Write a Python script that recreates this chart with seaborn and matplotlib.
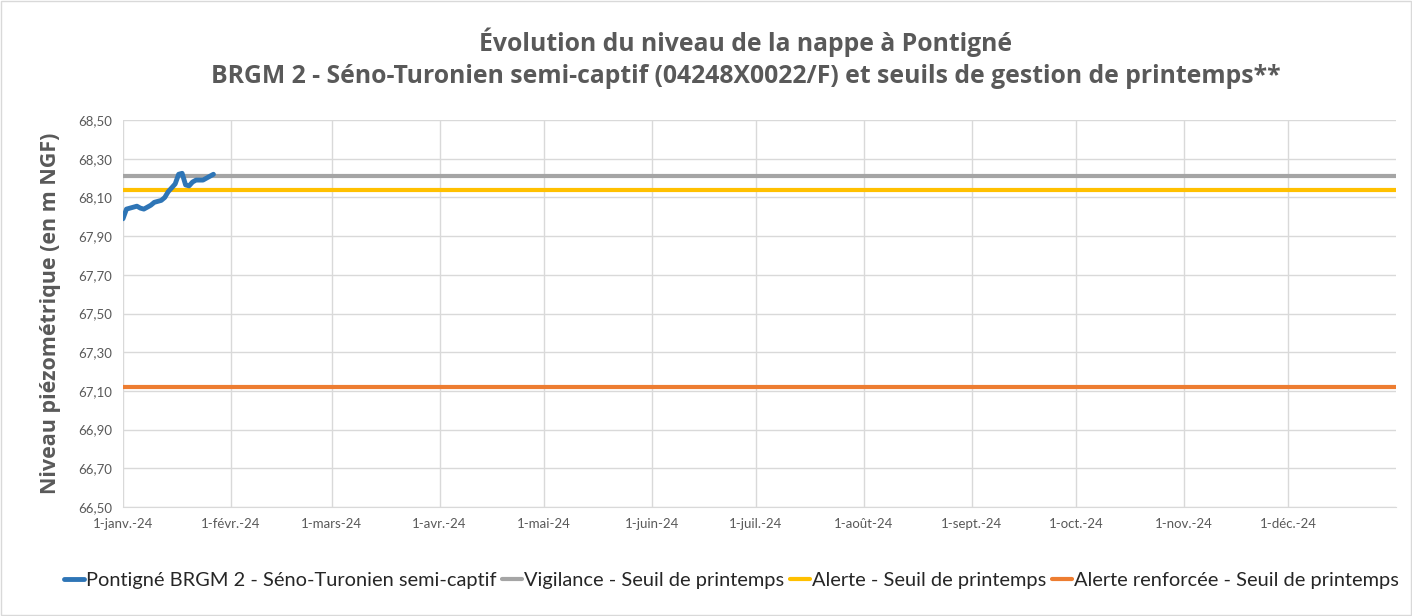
import pandas as pd
import numpy as np
import matplotlib.pyplot as plt
import seaborn as sns

# Relevé journalier (janvier 2024)
dates_mesure = pd.date_range("2024-01-01", "2024-01-27", freq="D")
niveau = [67.99, 68.04, 68.045, 68.05, 68.055, 68.045, 68.04, 68.05, 68.06,
          68.075, 68.08, 68.085, 68.10, 68.13, 68.15, 68.17, 68.22, 68.225,
          68.165, 68.16, 68.18, 68.19, 68.19, 68.19, 68.20, 68.21, 68.22]

# Seuils de gestion de printemps
seuil_dates = [pd.Timestamp("2024-01-01"), pd.Timestamp("2025-01-01")]
seuil_vigilance = [68.21, 68.21]
seuil_alerte = [68.14, 68.14]
seuil_renforcee = [67.12, 67.12]

labels = ["Pontigné BRGM 2 - Séno-Turonien semi-captif",
          "Vigilance - Seuil de printemps",
          "Alerte - Seuil de printemps",
          "Alerte renforcée - Seuil de printemps"]
colors = ["#2E75B6", "#A5A5A5", "#FFC000", "#ED7D31"]
mois = ["1-janv.-24", "1-févr.-24", "1-mars-24", "1-avr.-24", "1-mai-24", "1-juin-24",
        "1-juil.-24", "1-août-24", "1-sept.-24", "1-oct.-24", "1-nov.-24", "1-déc.-24"]

sns.set_style("white")
plt.rcParams['font.family'] = ['Lato', 'DejaVu Sans']
gras = ['Open Sans', 'DejaVu Sans']

fig = plt.figure(figsize=(14.12, 6.16), dpi=100)
ax = fig.add_axes([0.0871, 0.177, 0.9016, 0.628])

df_mes = pd.DataFrame({"date": dates_mesure, "niveau": niveau})
sns.lineplot(data=df_mes, x="date", y="niveau", ax=ax, color=colors[0], lw=3.5, label=labels[0], zorder=5)
for vals, c, lab in zip([seuil_vigilance, seuil_alerte, seuil_renforcee], colors[1:], labels[1:]):
    d = pd.DataFrame({"date": seuil_dates, "niveau": vals})
    sns.lineplot(data=d, x="date", y="niveau", ax=ax, color=c, lw=3, label=lab, zorder=4)

ax.set_xlim(pd.Timestamp("2024-01-01"), pd.Timestamp("2025-01-01"))
ax.set_ylim(66.5, 68.5)
yt = np.arange(66.5, 68.51, 0.2)
ax.set_yticks(yt)
ax.set_yticklabels([f"{v:.2f}".replace(".", ",") for v in yt])
xt = pd.date_range("2024-01-01", "2024-12-01", freq="MS")
ax.set_xticks(xt)
ax.set_xticklabels(mois)
ax.tick_params(axis="both", labelsize=9.5, colors="#595959", length=0, pad=8)
ax.grid(True, color="#D9D9D9", lw=1)
for s in ["top", "right", "left"]:
    ax.spines[s].set_visible(False)
ax.spines["bottom"].set_color("#D9D9D9")
ax.set_xlabel("")
ax.set_ylabel("Niveau piézométrique (en m NGF)", fontsize=15.5, fontweight="bold", color="#595959",
              labelpad=12, family=gras)

fig.text(0.528, 0.932, "Évolution du niveau de la nappe à Pontigné", ha="center", va="center",
         fontsize=17.8, fontweight="bold", color="#595959", family=gras)
fig.text(0.528, 0.876, "BRGM 2 - Séno-Turonien semi-captif (04248X0022/F) et seuils de gestion de printemps**",
         ha="center", va="center", fontsize=17.8, fontweight="bold", color="#595959", family=gras)

ax.legend(loc="center", bbox_to_anchor=(0.518, 0.057), bbox_transform=fig.transFigure, ncol=4,
          frameon=False, fontsize=14.4, handlelength=1.0, handletextpad=0.1, columnspacing=0.3,
          labelcolor="#262626")

fig.patches.append(plt.Rectangle((0.001, 0.002), 0.998, 0.996, transform=fig.transFigure,
                                 fill=False, edgecolor="#D9D9D9", lw=1))
fig.savefig("out.png", dpi=100)
